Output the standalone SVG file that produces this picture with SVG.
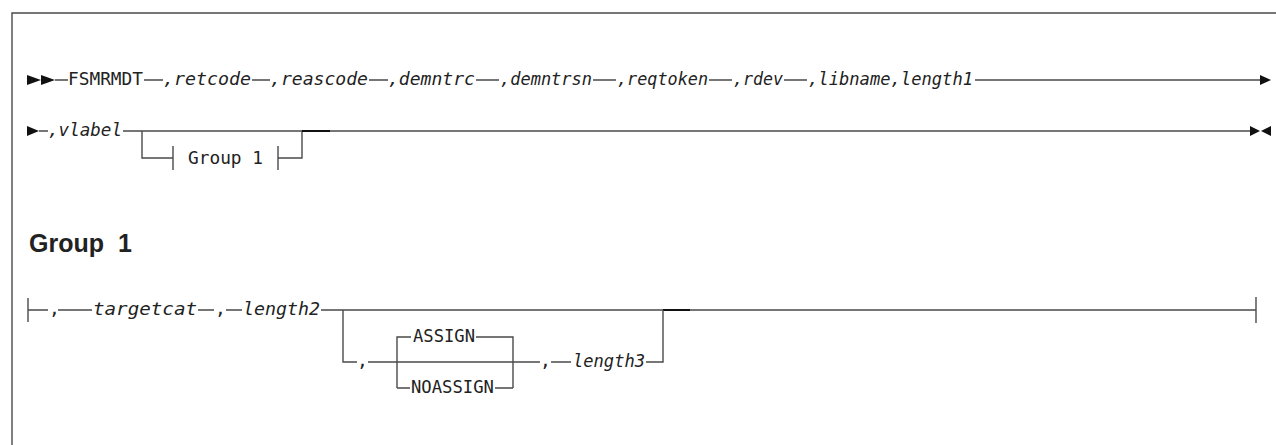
<svg xmlns="http://www.w3.org/2000/svg" width="1276" height="445" viewBox="0 0 1276 445">
<style>
.ln{stroke:#4a4a4a;stroke-width:1.4;fill:none}
.dk{stroke:#111;stroke-width:2;fill:none}
.t{font-family:"DejaVu Sans Mono","Liberation Mono",monospace;font-size:18px;fill:#222}
.i{font-style:italic}
.ah{fill:#111;stroke:none}
.hd{font-family:"Liberation Sans",Arial,sans-serif;font-weight:bold;font-size:25px;fill:#222;word-spacing:7px}
</style>
<rect width="1276" height="445" fill="#fff"/>
<path class="ln" d="M12,445 V13 H1276" stroke-width="1.6"/>

<g id="connectors">
  <!-- row 1 -->
  <polygon class="ah" points="27,75 41,80 27,85"/>
  <polygon class="ah" points="41,75 55,80 41,85"/>
  <path class="ln" d="M55,80 H68 M144,80 H163 M252,80 H270 M369,80 H388 M476,80 H499 M593,80 H616 M709,80 H732 M784,80 H807 M975,80 H1261"/>
  <polygon class="ah" points="1260,75 1271,80 1260,85"/>
  <!-- row 2 -->
  <polygon class="ah" points="27,126 39,131 27,136"/>
  <path class="ln" d="M39,131 H48 M123,131 H1251"/>
  <path class="ln" d="M142,131 V158 H173 M173,146 V170 M278,146 V170 M278,158 H302 V131"/>
  <path class="dk" d="M302,131 H330"/>
  <polygon class="ah" points="1250,126 1260,131 1250,136"/>
  <polygon class="ah" points="1271,126 1261,131 1271,136"/>
  <!-- group 1 row -->
  <path class="ln" d="M28,298 V322 M28,310 H48 M58,310 H92 M198,310 H214 M226,310 H242 M321,310 H1256 M1256,297 V323"/>
  <path class="dk" d="M663,310 H690"/>
  <path class="ln" d="M343,310 V362 H357 M368,362 H540 M397,388 V337 H411 M476,337 H513 V388 M397,388 H410 M495,388 H513 M551,362 H571 M646,362 H663 V310"/>
</g>

<g id="row1">
  <text class="t" x="68" y="85" textLength="75" lengthAdjust="spacingAndGlyphs">FSMRMDT</text>
  <text class="t i" x="163" y="85" textLength="88" lengthAdjust="spacingAndGlyphs">,retcode</text>
  <text class="t i" x="270" y="85" textLength="98" lengthAdjust="spacingAndGlyphs">,reascode</text>
  <text class="t i" x="388" y="85" textLength="87" lengthAdjust="spacingAndGlyphs">,demntrc</text>
  <text class="t i" x="500" y="85" textLength="92" lengthAdjust="spacingAndGlyphs">,demntrsn</text>
  <text class="t i" x="617" y="85" textLength="91" lengthAdjust="spacingAndGlyphs">,reqtoken</text>
  <text class="t i" x="733" y="85" textLength="50" lengthAdjust="spacingAndGlyphs">,rdev</text>
  <text class="t i" x="808" y="85" textLength="165" lengthAdjust="spacingAndGlyphs">,libname,length1</text>
</g>
<g id="row2">
  <text class="t i" x="48" y="136" textLength="74" lengthAdjust="spacingAndGlyphs">,vlabel</text>
  <text class="t" x="188" y="164" textLength="75" lengthAdjust="spacingAndGlyphs">Group 1</text>
</g>
<g id="group1-heading">
  <text class="hd" x="29" y="252">Group 1</text>
</g>
<g id="group1">
  <text class="t" x="49" y="315">,</text>
  <text class="t i" x="93" y="315" textLength="104" lengthAdjust="spacingAndGlyphs">targetcat</text>
  <text class="t" x="215" y="315">,</text>
  <text class="t i" x="243" y="315" textLength="77" lengthAdjust="spacingAndGlyphs">length2</text>
  <text class="t" x="357" y="367">,</text>
  <text class="t" x="413" y="342" textLength="62" lengthAdjust="spacingAndGlyphs">ASSIGN</text>
  <text class="t" x="411" y="393" textLength="83" lengthAdjust="spacingAndGlyphs">NOASSIGN</text>
  <text class="t" x="540" y="367">,</text>
  <text class="t i" x="573" y="367" textLength="72" lengthAdjust="spacingAndGlyphs">length3</text>
</g>
</svg>
